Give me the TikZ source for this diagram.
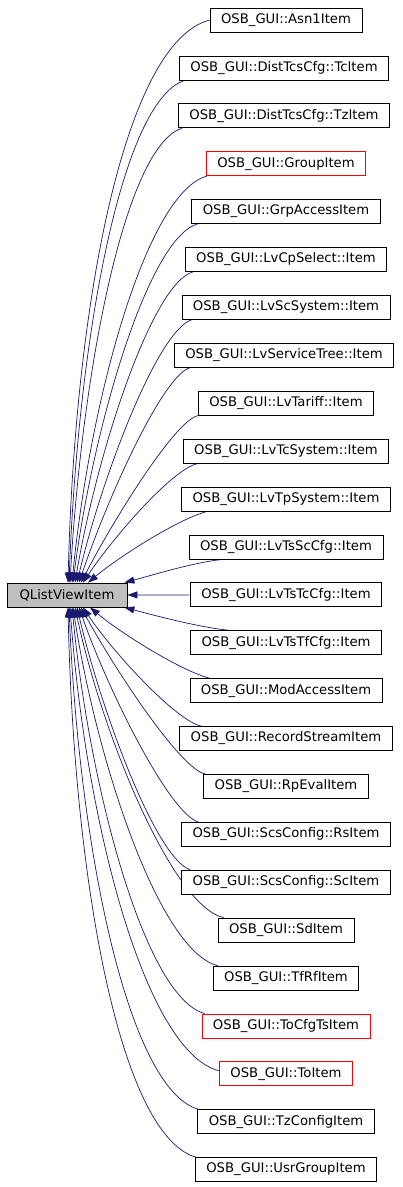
\documentclass[tikz,border=0pt]{standalone}
\usepackage{fontspec}
\setmainfont{DejaVu Sans}
\usetikzlibrary{arrows.meta, backgrounds}
\definecolor{edgeblue}{HTML}{191970}
\definecolor{basegray}{HTML}{BFBFBF}

\begin{document}
\begin{tikzpicture}[
      x=1pt, y=-1pt,
      box/.style={rectangle, draw=black, line width=0.8pt, fill=white,
                  minimum height=24pt, inner xsep=11pt, inner ysep=0pt,
                  font=\fontsize{13.2}{15}\selectfont},
      basebox/.style={box, fill=basegray, minimum width=120pt},
      redbox/.style={box, draw=red},
      edge/.style={-{Triangle[length=10pt, width=7pt]}, line width=0.7pt, edgeblue}
    ]
    \useasboundingbox (0,0) rectangle (403,1187);

    % base class
    \node[basebox] (qlvi) at (67,595) {QListViewItem};

    % derived classes
    \node[box] (asn) at (286,20) {OSB\_GUI::Asn1Item};
    \node[box] (tcitem) at (284,67.9) {OSB\_GUI::DistTcsCfg::TcItem};
    \node[box] (tzitem) at (284,115.8) {OSB\_GUI::DistTcsCfg::TzItem};
    \node[redbox] (group) at (286,163.7) {OSB\_GUI::GroupItem};
    \node[box] (grpaccess) at (286,211.6) {OSB\_GUI::GrpAccessItem};
    \node[box] (lvcpselect) at (286,259.5) {OSB\_GUI::LvCpSelect::Item};
    \node[box] (lvscsystem) at (286,307.4) {OSB\_GUI::LvScSystem::Item};
    \node[box] (lvservicetree) at (284,355.3) {OSB\_GUI::LvServiceTree::Item};
    \node[box] (lvtariff) at (286,403.2) {OSB\_GUI::LvTariff::Item};
    \node[box] (lvtcsystem) at (286,451.1) {OSB\_GUI::LvTcSystem::Item};
    \node[box] (lvtpsystem) at (286,499) {OSB\_GUI::LvTpSystem::Item};
    \node[box] (lvtssccfg) at (286,546.9) {OSB\_GUI::LvTsScCfg::Item};
    \node[box] (lvtstccfg) at (286,594.8) {OSB\_GUI::LvTsTcCfg::Item};
    \node[box] (lvtstfcfg) at (286,642.7) {OSB\_GUI::LvTsTfCfg::Item};
    \node[box] (modaccess) at (286,690.6) {OSB\_GUI::ModAccessItem};
    \node[box] (recordstream) at (286,738.5) {OSB\_GUI::RecordStreamItem};
    \node[box] (rpeval) at (286,786.4) {OSB\_GUI::RpEvalItem};
    \node[box] (rsitem) at (286,834.3) {OSB\_GUI::ScsConfig::RsItem};
    \node[box] (scitem) at (286,882.2) {OSB\_GUI::ScsConfig::ScItem};
    \node[box] (sditem) at (286,930.1) {OSB\_GUI::SdItem};
    \node[box] (tfrfitem) at (286,978) {OSB\_GUI::TfRfItem};
    \node[redbox] (tocfgts) at (286,1025.9) {OSB\_GUI::ToCfgTsItem};
    \node[redbox] (toitem) at (286,1073.8) {OSB\_GUI::ToItem};
    \node[box] (tzconfig) at (286,1121.7) {OSB\_GUI::TzConfigItem};
    \node[box] (usrgroup) at (286,1169.6) {OSB\_GUI::UsrGroupItem};

    \begin{scope}[on background layer]
    % inheritance edges, upper half
    \draw[edge] (asn.west) .. controls +(-85,22) and +(7,-281) .. ([xshift=1pt]qlvi.north);
    \draw[edge] ([xshift=6pt]tcitem.south west) .. controls +(-64,20) and +(9,-242) .. ([xshift=2pt]qlvi.north);
    \draw[edge] ([xshift=4pt]tzitem.south west) .. controls +(-57,18) and +(12,-212) .. ([xshift=3pt]qlvi.north);
    \draw[edge] ([xshift=1pt]group.south west) .. controls +(-60,16) and +(18,-184) .. ([xshift=5pt]qlvi.north);
    \draw[edge] ([xshift=6pt]grpaccess.south west) .. controls +(-49,14) and +(20,-156) .. ([xshift=6pt]qlvi.north);
    \draw[edge] ([xshift=8pt]lvcpselect.south west) .. controls +(-41,12) and +(22,-130) .. ([xshift=8pt]qlvi.north);
    \draw[edge] ([xshift=10pt]lvscsystem.south west) .. controls +(-34,11) and +(25,-106) .. ([xshift=10pt]qlvi.north);
    \draw[edge] ([xshift=16pt]lvservicetree.south west) .. controls +(-28,9) and +(28,-83) .. ([xshift=12pt]qlvi.north);
    \draw[edge] (lvtariff.south west) .. controls +(-23,5) and +(32,-62) .. ([xshift=14pt]qlvi.north);
    \draw[edge] ([xshift=15pt]lvtcsystem.south west) .. controls +(-25,5) and +(30,-45) .. ([xshift=16pt]qlvi.north);
    \draw[edge] ([xshift=26pt]lvtpsystem.south west) .. controls +(-30,8) and +(30,-25) .. ([xshift=21pt]qlvi.north);
    \draw[edge] ([xshift=35pt]lvtssccfg.south west) .. controls +(-30,3) and +(30,-8) .. ([xshift=-3pt]qlvi.north east);
    \draw[edge] (lvtstccfg) -- (qlvi);

    % inheritance edges, lower half
    \draw[edge] ([xshift=39pt]lvtstfcfg.north west) .. controls +(-30,-3) and +(30,8) .. ([xshift=-3pt]qlvi.south east);
    \draw[edge] ([xshift=20pt]modaccess.north west) .. controls +(-30,-8) and +(30,25) .. ([xshift=23pt]qlvi.south);
    \draw[edge] ([xshift=22pt]recordstream.north west) .. controls +(-25,-5) and +(30,45) .. ([xshift=16pt]qlvi.south);
    \draw[edge] ([xshift=2pt]rpeval.north west) .. controls +(-25,-5) and +(34,62) .. ([xshift=14pt]qlvi.south);
    \draw[edge] ([xshift=17pt]rsitem.north west) .. controls +(-29,-9) and +(29,83) .. ([xshift=12pt]qlvi.south);
    \draw[edge] ([xshift=9pt]scitem.north west) .. controls +(-34,-11) and +(25,106) .. ([xshift=10pt]qlvi.south);
    \draw[edge] ([xshift=6pt]sditem.north west) .. controls +(-51,-12) and +(28,130) .. ([xshift=8pt]qlvi.south);
    \draw[edge] ([xshift=5pt]tfrfitem.north west) .. controls +(-58,-14) and +(24,156) .. ([xshift=6pt]qlvi.south);
    \draw[edge] ([xshift=3pt]tocfgts.north west) .. controls +(-59,-16) and +(18,184) .. ([xshift=5pt]qlvi.south);
    \draw[edge] ([yshift=3pt]toitem.west) .. controls +(-74,-19) and +(16,216) .. ([xshift=3pt]qlvi.south);
    \draw[edge] ([xshift=1pt]tzconfig.north west) .. controls +(-70,-20) and +(10,243) .. ([xshift=2pt]qlvi.south);
    \draw[edge] ([xshift=1pt]usrgroup.north west) .. controls +(-76,-22) and +(6,275) .. ([xshift=1pt]qlvi.south);
    \end{scope}
  \end{tikzpicture}
\end{document}
